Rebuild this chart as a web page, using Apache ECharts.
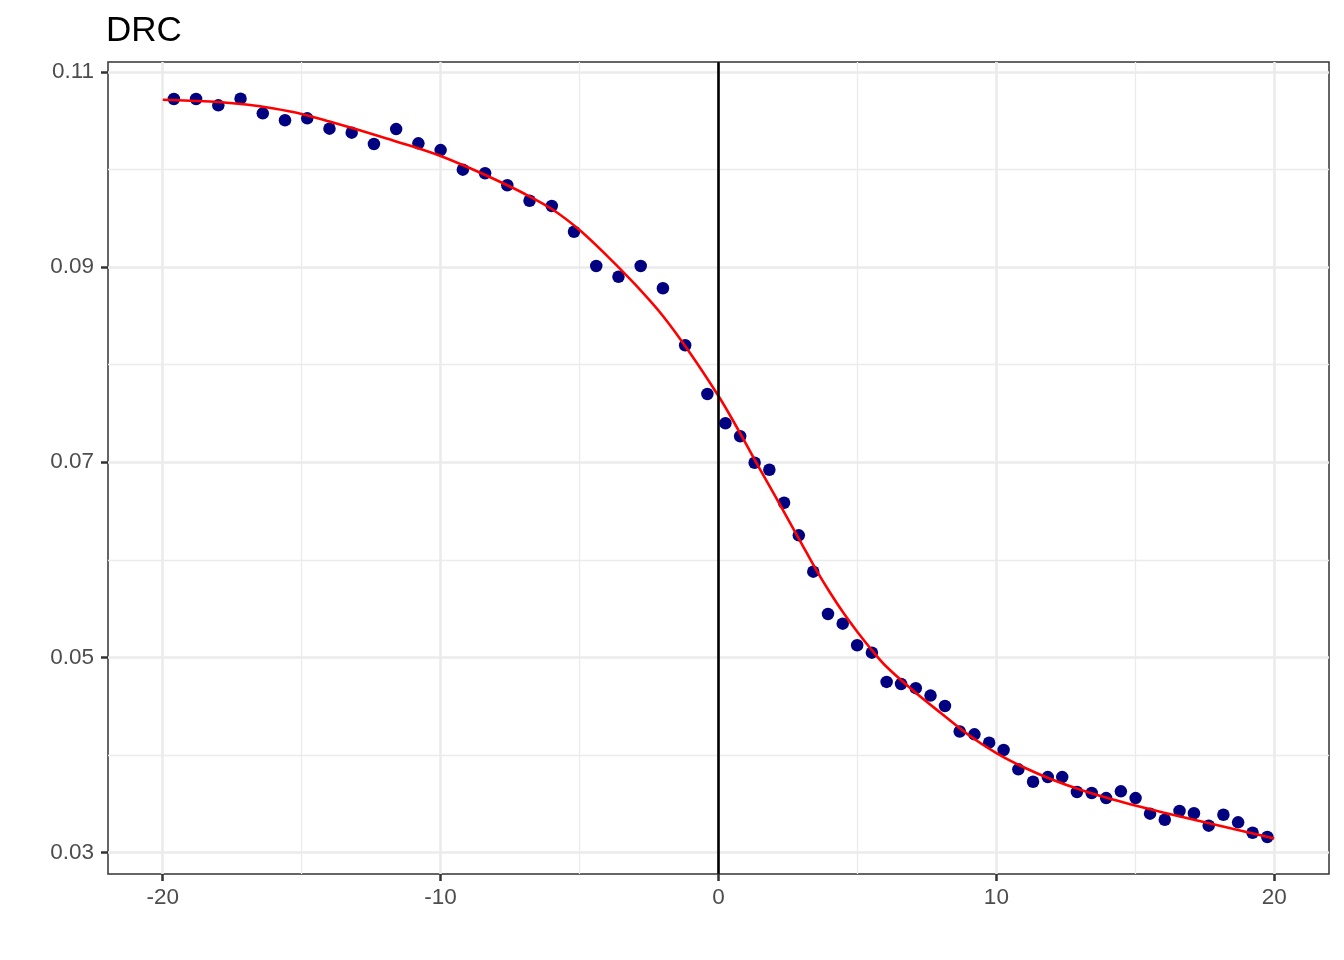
<!DOCTYPE html>
<html>
<head>
<meta charset="utf-8">
<script src="https://cdn.jsdelivr.net/npm/echarts@6/dist/echarts.min.js"></script>
<style>
html,body{margin:0;padding:0;background:#fff;}
#chart{width:1344px;height:960px;}
</style>
</head>
<body>
<div id="chart"></div>
<script>
// ---- data ----
const pointX = [
  -19.6, -18.8, -18.0, -17.2, -16.4, -15.6, -14.8, -14.0, -13.2, -12.4,
  -11.6, -10.8, -10.0, -9.2, -8.4, -7.6, -6.8, -6.0, -5.2, -4.4,
  -3.6, -2.8, -2.0, -1.2, -0.4,
  0.25, 0.78, 1.30, 1.83, 2.36, 2.89, 3.41, 3.94, 4.47, 4.99,
  5.52, 6.05, 6.57, 7.10, 7.63, 8.15, 8.68, 9.21, 9.74, 10.26,
  10.79, 11.32, 11.85, 12.37, 12.90, 13.43, 13.95, 14.48, 15.01, 15.53,
  16.06, 16.59, 17.11, 17.64, 18.17, 18.70, 19.22, 19.75
];
const pointY = [
  0.10721, 0.10721, 0.10656, 0.10724, 0.10574, 0.10503, 0.10523, 0.10417, 0.10376, 0.10260,
  0.10413, 0.10267, 0.10198, 0.09997, 0.09960, 0.09837, 0.09679, 0.09625, 0.09361, 0.09010,
  0.08900, 0.09010, 0.08782, 0.08198, 0.07699,
  0.07399, 0.07266, 0.06995, 0.06923, 0.06585, 0.06251, 0.05879, 0.05445, 0.05346, 0.05125,
  0.05049, 0.04750, 0.04728, 0.04686, 0.04610, 0.04503, 0.04242, 0.04213, 0.04127, 0.04052,
  0.03854, 0.03727, 0.03775, 0.03775, 0.03622, 0.03612, 0.03560, 0.03629, 0.03560, 0.03400,
  0.03338, 0.03427, 0.03404, 0.03277, 0.03389, 0.03311, 0.03205, 0.03161
];
// fitted curve
const curveX = [
  -20, -19, -18, -17, -16, -15, -14, -13, -12, -11, -10, -9, -8, -7, -6, -5, -4, -3, -2, -1,
  0, 0.5, 1, 1.5, 2, 2.5, 3, 3.5, 4, 4.5, 5, 5.5, 6, 7, 8, 9, 10,
  11, 12, 13, 14, 15, 16, 17, 18, 19, 20
];
const curveY = [
  0.10714, 0.10703, 0.10690, 0.10664, 0.10623, 0.10567, 0.10490, 0.10408, 0.10321, 0.10234,
  0.10137, 0.10019, 0.09891, 0.09753, 0.09594, 0.09379, 0.09112, 0.08821, 0.08498, 0.08109,
  0.07678, 0.07438, 0.07182, 0.06925, 0.06674, 0.06418, 0.06162, 0.05906, 0.05671, 0.05455,
  0.05261, 0.05082, 0.04918, 0.04662, 0.04431, 0.04206, 0.04021,
  0.03873, 0.03750, 0.03647, 0.03560, 0.03484, 0.03412, 0.03345, 0.03279, 0.03212, 0.03145
];
const vlineX = [0];
const xTicks = [-20, -10, 0, 10, 20];
const xMinor = [-15, -5, 5, 15];
const yTicks = [0.03, 0.05, 0.07, 0.09, 0.11];
const yMinor = [0.04, 0.06, 0.08, 0.10];
const titleText = 'DRC';

// ---- chart ----
const FONT = '"Liberation Sans", Arial, Helvetica, sans-serif';
const chart = echarts.init(document.getElementById('chart'), null, {renderer: 'canvas'});

const gridLine = (arr, axis, width) => arr.map(v => ({
  [axis]: v,
  lineStyle: {color: '#EBEBEB', width: width, type: 'solid'}
}));

const option = {
  animation: false,
  backgroundColor: '#ffffff',
  title: {
    text: titleText,
    left: 106,
    top: 14,
    padding: 0,
    textStyle: {fontFamily: FONT, fontSize: 35, fontWeight: 'normal', color: '#000000'}
  },
  grid: {
    left: 108, right: 15, top: 62, bottom: 86,
    show: true, borderColor: '#333333', borderWidth: 1.5, backgroundColor: '#ffffff'
  },
  xAxis: {
    type: 'value', min: -21.97, max: 21.97,
    axisLine: {show: false, onZero: false},
    splitLine: {show: false},
    axisTick: {show: true, customValues: xTicks, length: 7, lineStyle: {color: '#333333', width: 2.5}},
    axisLabel: {customValues: xTicks, margin: 12, color: '#4D4D4D', fontSize: 22.5, fontFamily: FONT,
      formatter: v => String(v)}
  },
  yAxis: {
    type: 'value', min: 0.02782, max: 0.1110,
    axisLine: {show: false, onZero: false},
    splitLine: {show: false},
    axisTick: {show: true, customValues: yTicks, length: 7, lineStyle: {color: '#333333', width: 2.5}},
    axisLabel: {customValues: yTicks, margin: 14, color: '#4D4D4D', fontSize: 22.5, fontFamily: FONT,
      formatter: v => Number(v).toFixed(2)}
  },
  series: [
    {
      name: 'grid', type: 'line', data: [], z: 1, silent: true,
      markLine: {
        z: 1, silent: true, symbol: 'none', animation: false, label: {show: false},
        data: [
          ...gridLine(xMinor, 'xAxis', 1.3),
          ...gridLine(yMinor, 'yAxis', 1.3),
          ...gridLine(xTicks, 'xAxis', 2.6),
          ...gridLine(yTicks, 'yAxis', 2.6)
        ]
      }
    },
    {
      name: 'points', type: 'scatter', z: 2,
      data: pointX.map((x, i) => [x, pointY[i]]),
      symbol: 'circle', symbolSize: 12.5,
      itemStyle: {color: '#000080', opacity: 1}
    },
    {
      name: 'fit', type: 'line', z: 3,
      data: curveX.map((x, i) => [x, curveY[i]]),
      showSymbol: false, smooth: 0.3,
      lineStyle: {color: '#FF0000', width: 2.6}
    },
    {
      name: 'vline', type: 'line', data: [], z: 4, silent: true,
      markLine: {
        z: 10, silent: true, symbol: 'none', animation: false, label: {show: false},
        data: vlineX.map(v => ({xAxis: v, lineStyle: {color: '#000000', width: 2.6, type: 'solid'}}))
      }
    }
  ]
};
chart.setOption(option);
</script>
</body>
</html>
